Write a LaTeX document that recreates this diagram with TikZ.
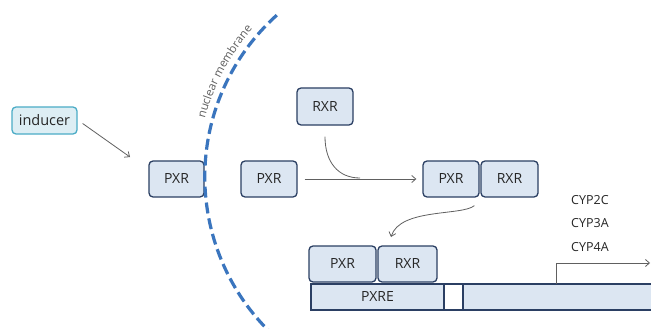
\documentclass[tikz,border=0pt]{standalone}
\usepackage{fontspec}
\setmainfont{Open Sans}
\usetikzlibrary{arrows.meta,decorations.text}
\definecolor{boxfill}{HTML}{DCE6F2}
\definecolor{boxline}{HTML}{2B3F63}
\definecolor{indfill}{HTML}{DDEEF4}
\definecolor{indline}{HTML}{4BACC6}
\definecolor{memblue}{HTML}{3A75BE}
\definecolor{conn}{HTML}{606060}
\definecolor{txt}{HTML}{262626}
\begin{document}
\begin{tikzpicture}[x=1pt,y=-1pt,
 recbox/.style={draw=boxline, fill=boxfill, line width=1.3pt, rounded corners=4pt, inner sep=0pt, font=\fontsize{14}{16}\selectfont, text=txt},
 indbox/.style={draw=indline, fill=indfill, line width=1.3pt, rounded corners=4pt, inner sep=0pt, font=\fontsize{14.5}{16}\selectfont, text=txt},
 strip/.style={draw=boxline, fill=boxfill, line width=1.3pt, inner sep=0pt, font=\fontsize{14}{16}\selectfont, text=txt},
 link/.style={draw=conn, line width=0.8pt},
 tip/.style={-{Straight Barb[length=4pt,width=7pt]}},
 gene/.style={anchor=west, font=\fontsize{12.5}{14}\selectfont, text=txt, inner sep=0pt},
]
\useasboundingbox (0,0) rectangle (651,329);
\fill[white] (0,0) rectangle (651,329);

% boxes
\node[indbox, minimum width=65pt, minimum height=27pt] (inducer) at (44.5,120.5) {inducer};
\node[recbox, minimum width=55pt, minimum height=36pt] (pxr1) at (176.5,179) {PXR};
\node[recbox, minimum width=56pt, minimum height=36pt] (pxr2) at (269,179) {PXR};
\node[recbox, minimum width=56pt, minimum height=37pt] (rxr1) at (325,106.5) {RXR};
\node[recbox, minimum width=56pt, minimum height=36pt] (pxr3) at (451,179) {PXR};
\node[recbox, minimum width=57pt, minimum height=36pt] (rxr3) at (509.5,179) {RXR};
\node[recbox, minimum width=67pt, minimum height=36pt] (pxr4) at (342.5,264) {PXR};
\node[recbox, minimum width=59pt, minimum height=36pt] (rxr4) at (407.5,264) {RXR};

% DNA strip
\node[strip, minimum width=133pt, minimum height=26pt] (pxre) at (377.5,297) {PXRE};
\node[draw=boxline, fill=white, line width=1.3pt, minimum width=19pt, minimum height=26pt, inner sep=0pt] (gap) at (453.5,297) {};
\node[strip, minimum width=195pt, minimum height=26pt] (genebar) at (560.5,297) {};

% gene labels
\node[gene] (cyp2c) at (571,200) {CYP2C};
\node[gene] (cyp3a) at (571,223) {CYP3A};
\node[gene] (cyp4a) at (571,247) {CYP4A};

% connectors
\coordinate (indend) at (130,157);
\draw[link,tip] ([shift={(5,3)}]inducer.east) -- (indend);
\draw[link,tip,shorten <=7pt,shorten >=6pt] (pxr2.east) -- (pxr3.west);
\coordinate (join) at (360,178);
\draw[link] ([shift={(0,11)}]rxr1.south) .. controls (325,162) and (338,178) .. (join);
\coordinate (dnaend) at (391,237);
\draw[link,tip] ([shift={(-6,8)}]rxr3.south west) .. controls (462,216) and (400,208) .. (dnaend);
\coordinate (tss) at (556,284);
\coordinate (txend) at (650,263);
\draw[link,tip] (tss) |- (txend);

% nuclear membrane
\draw[memblue, line width=3.2pt, dash pattern=on 11pt off 5pt]
  plot[domain=228:133, samples=80, smooth] ({422.3+217.5*cos(\x)},{176.8+217.5*sin(\x)});
\path[decorate, decoration={text along path, text align=center,
  text={|\fontsize{11.5}{13}\selectfont\color{conn}|nuclear membrane}}]
  (199.5,145.5) arc[start angle=172, end angle=132, radius=225pt];
\end{tikzpicture}
\end{document}
